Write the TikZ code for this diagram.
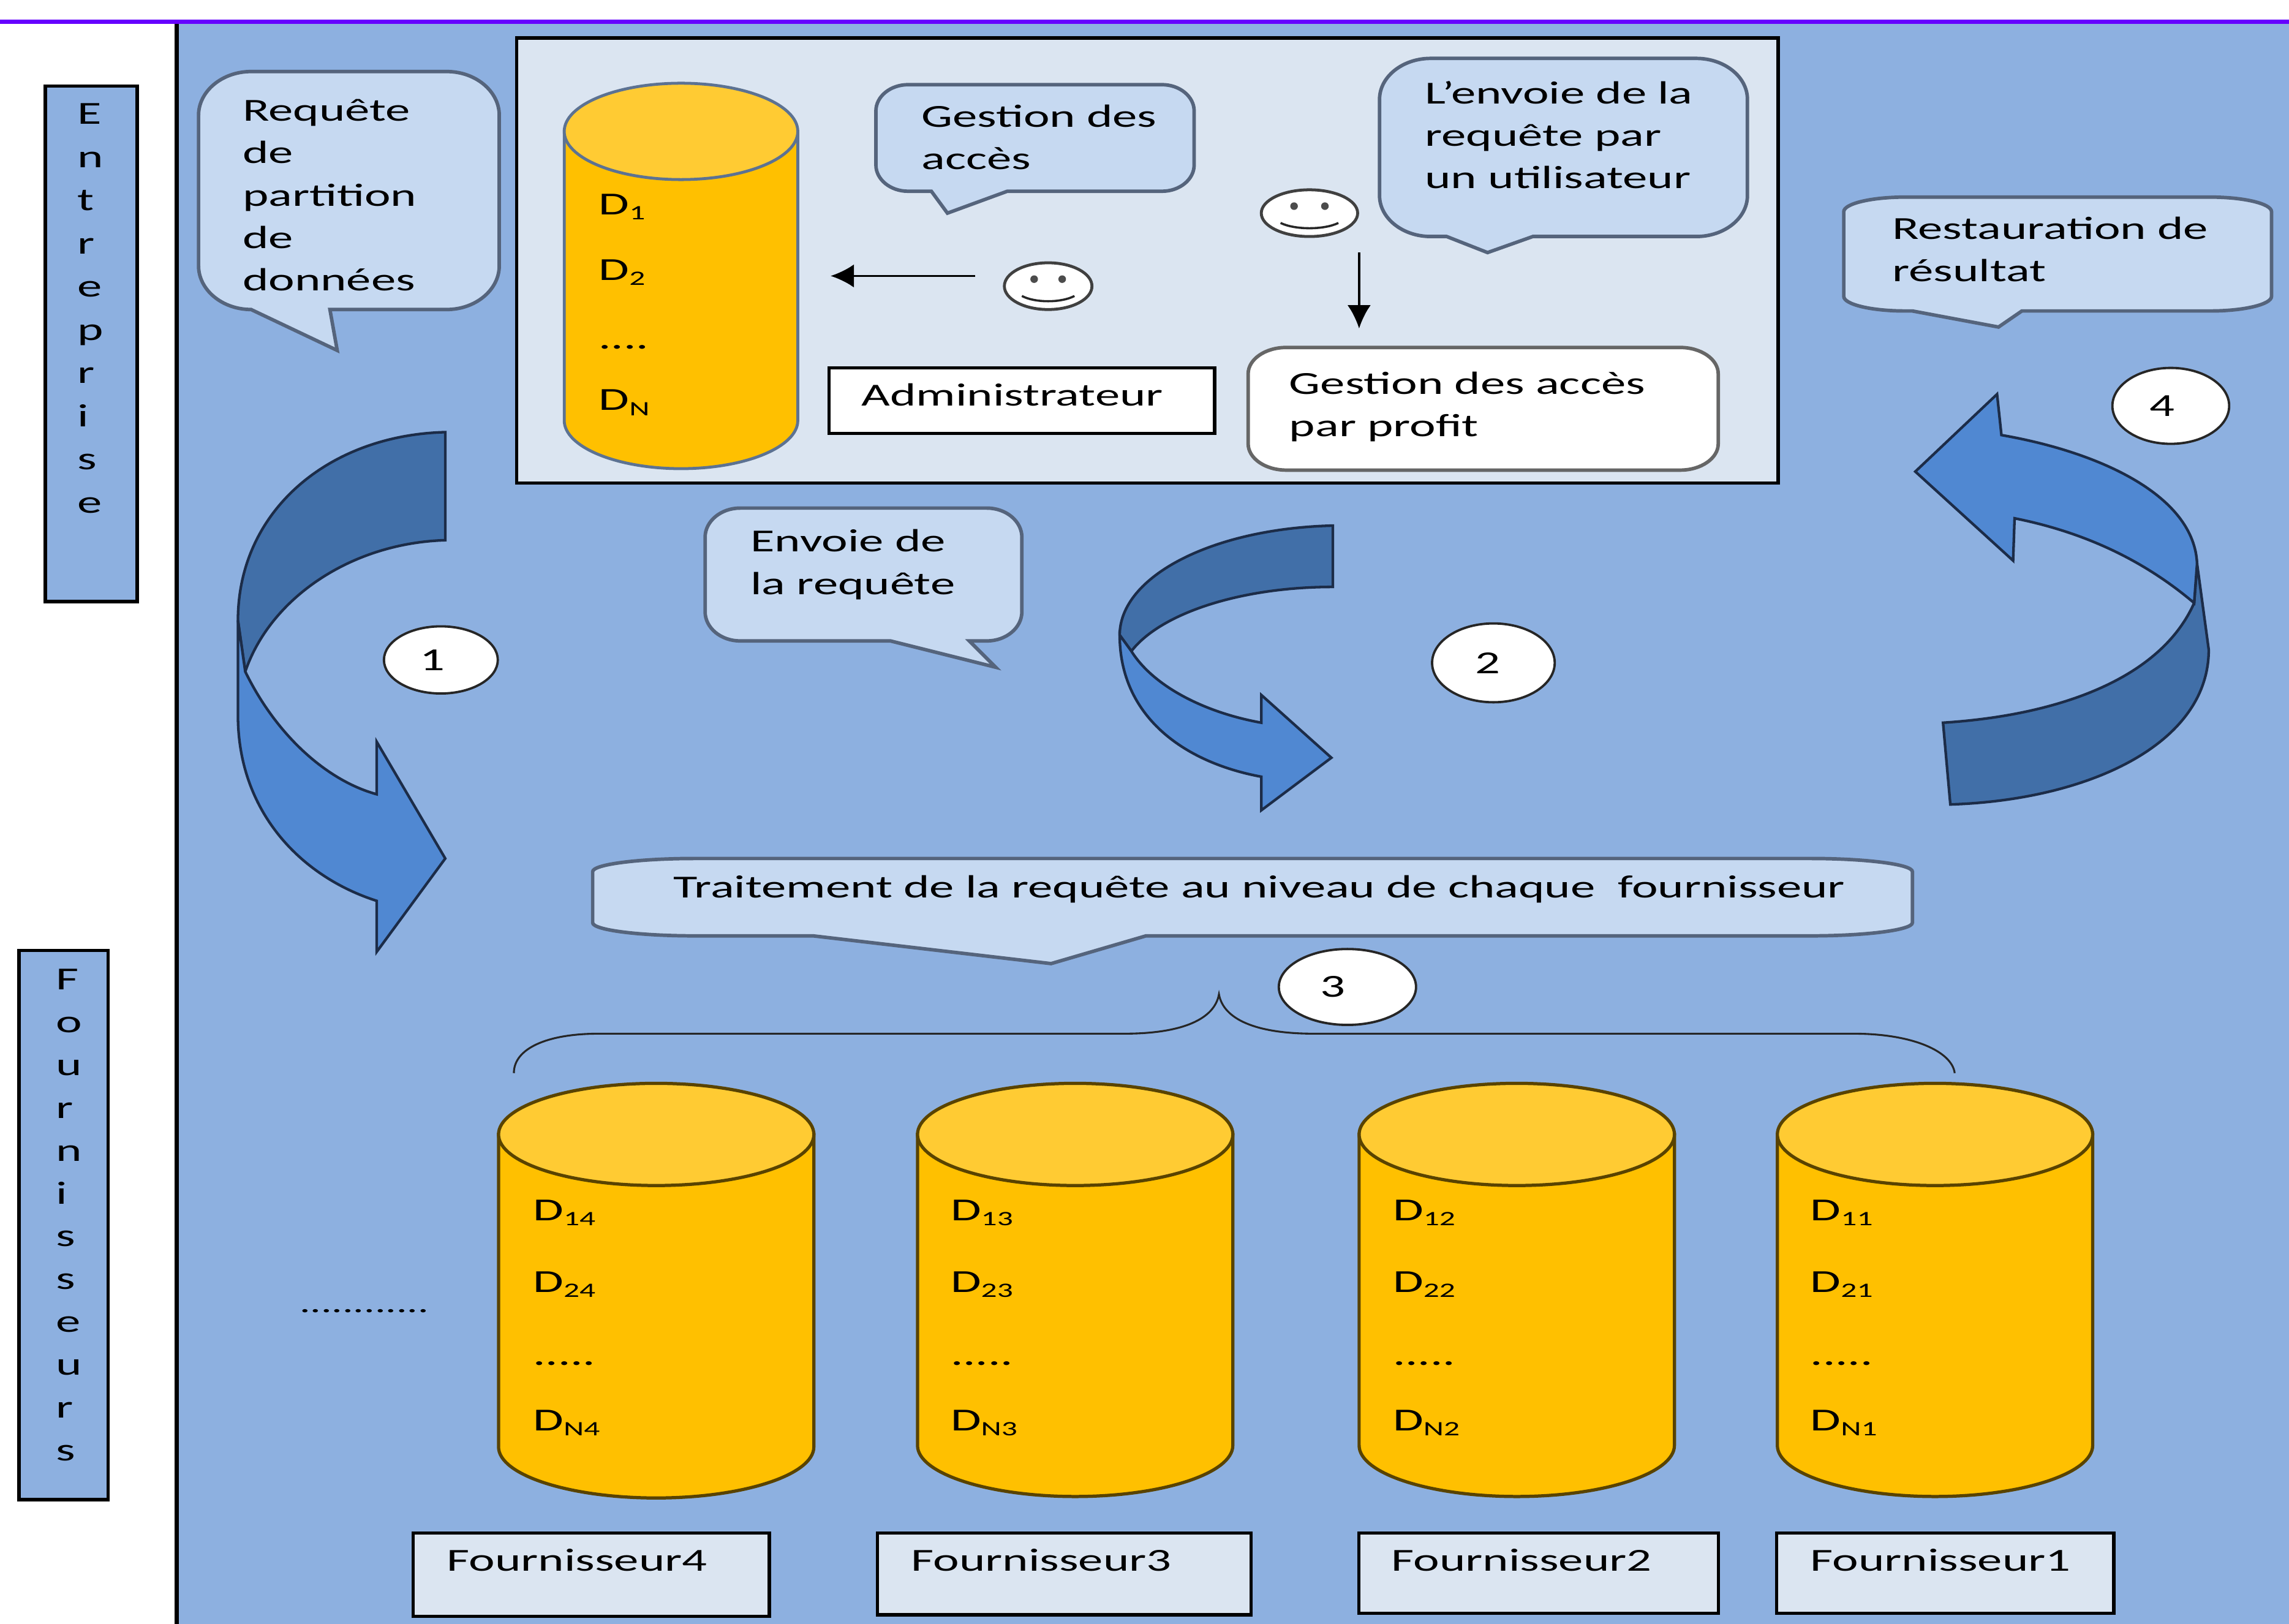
\documentclass[tikz,border=0pt]{standalone}
\usepackage{fontspec}
\setmainfont{Carlito}[FakeStretch=1.54]
\usetikzlibrary{shapes.geometric,arrows.meta}
\definecolor{bgblue}{HTML}{8DB0E0}
\definecolor{panel}{HTML}{DBE5F1}
\definecolor{bubfill}{HTML}{C6D9F1}
\definecolor{bubline}{HTML}{55647C}
\definecolor{purple1}{HTML}{6600FF}
\definecolor{dbbody}{HTML}{FFC000}
\definecolor{dbtop}{HTML}{FFCB33}
\definecolor{arrdark}{HTML}{416FA8}
\definecolor{arrlight}{HTML}{5088D2}
\definecolor{arrline}{HTML}{1C2C48}
\tikzset{
  txt/.style={anchor=base west,inner sep=0pt,font=\fontsize{22}{29}\selectfont},
  stack/.style={anchor=base west,inner sep=0pt,font=\fontsize{22}{#1}\selectfont},
  sidebox/.style={draw=black,line width=2.4pt,fill=bgblue},
  panelbox/.style={draw=black,line width=2.2pt,fill=panel},
  whitebox/.style={draw=black,line width=2.2pt,fill=white},
  bub/.style={draw=bubline,line width=2.4pt,fill=bubfill},
  whitebub/.style={draw=black!60,line width=2.4pt,fill=white},
  dbA/.style={draw=black!35!bgblue,line width=2pt},
  dbB/.style={draw=black!65!dbbody,line width=2.2pt},
  darkarrow/.style={draw=arrline,line width=1.8pt,fill=arrdark,line join=miter},
  lightarrow/.style={draw=arrline,line width=1.8pt,fill=arrlight,line join=miter},
  stepmark/.style={ellipse,draw=black!85,line width=1.6pt,fill=white,inner sep=0pt,font=\fontsize{22}{26}\selectfont},
  smile/.style={ellipse,draw=black!75,line width=2pt,fill=white,inner sep=0pt},
  conn/.style={draw=black,line width=1.6pt,-{Latex[length=16pt,width=16pt]}},
  bracel/.style={draw=black!85,line width=1.3pt}
}
\newcommand{\ml}[1]{\begin{tabular}[t]{@{}l@{}}#1\end{tabular}}
\newcommand{\sbs}[1]{\raisebox{-3.5pt}{\fontsize{14}{14}\selectfont #1}}
\newcommand{\callout}[8][bub]{%
  \draw[#1] ({#2+#6},#3) -- ({#4-#6},#3)
    .. controls ({#4-.45*#6},#3) and (#4,{#3+.45*#7}) .. (#4,{#3+#7})
    -- (#4,{#5-#7})
    .. controls (#4,{#5-.45*#7}) and ({#4-.45*#6},#5) .. ({#4-#6},#5)
    #8 -- ({#2+#6},#5)
    .. controls ({#2+.45*#6},#5) and (#2,{#5-.45*#7}) .. (#2,{#5-#7})
    -- (#2,{#3+#7})
    .. controls (#2,{#3+.45*#7}) and ({#2+.45*#6},#3) .. ({#2+#6},#3) -- cycle;}
\newcommand{\dbcyl}[7]{% name cx ytop ybot rx ry style
  \coordinate (#1) at (#2,{(#3+#4)/2});
  \draw[#7,fill=dbbody] ({#2-#5},#3) -- ({#2-#5},#4)
    .. controls ({#2-#5},{#4+.55*#6}) and ({#2-.55*#5},{#4+#6}) .. (#2,{#4+#6})
    .. controls ({#2+.55*#5},{#4+#6}) and ({#2+#5},{#4+.55*#6}) .. ({#2+#5},#4)
    -- ({#2+#5},#3) -- cycle;
  \draw[#7,fill=dbtop] (#2,#3) ellipse [x radius=#5,y radius=#6];}
\newcommand{\smiley}[5]{% name cx cy rx ry
  \node[smile,minimum width=#4*2pt,minimum height=#5*2pt] (#1) at (#2,#3) {};
  \fill[black!70] ({#2-.32*#4},{#3-.3*#5}) circle (2.6pt) ({#2+.32*#4},{#3-.3*#5}) circle (2.6pt);
  \draw[black!85,line width=1.5pt] ({#2-.6*#4},{#3+.42*#5}) .. controls ({#2-.3*#4},{#3+.72*#5}) and ({#2+.3*#4},{#3+.72*#5}) .. ({#2+.6*#4},{#3+.42*#5});}
\begin{document}
\begin{tikzpicture}[x=1pt,y=-1pt]
\useasboundingbox (0,0) rectangle (1568,1112.3);
\fill[white] (0,0) rectangle (1568,1112.3);
\fill[bgblue] (121,15) rectangle (1568,1112.3);
\draw[black,line width=3pt] (121,15) -- (121,1112.3);
\draw[purple1,line width=3pt] (0,15) -- (1568,15);
% side boxes
\draw[sidebox] (31,59) rectangle (94,412);
\node[stack=29.6] (ent) at (53,85) {\ml{E\\n\\t\\r\\e\\p\\r\\i\\s\\e}};
\draw[sidebox] (13,651) rectangle (74,1027);
\node[stack=29.3] (fou) at (38,678) {\ml{F\\o\\u\\r\\n\\i\\s\\s\\e\\u\\r\\s}};
% enterprise panel
\draw[panelbox] (354,26) rectangle (1218,331);
\dbcyl{dbE}{466.5}{90}{288}{80}{33}{dbA}
\node[txt] (e1) at (410,147) {D\sbs{1}};
\node[txt] (e2) at (410,192) {D\sbs{2}};
\node[txt] (e3) at (410,239) {....};
\node[txt] (e4) at (410,281) {D\sbs{N}};
\callout{600}{58}{818}{131}{22}{18}{-- (690,131) -- (649,146) -- (638,131)}
\node[txt] (g1) at (631,87) {\ml{Gestion des\\accès}};
\callout{945}{40}{1197}{162}{35}{28}{-- (1050,162) -- (1019,173) -- (991,162)}
\node[txt] (l1) at (976,71) {\ml{L’envoie de la\\requête par\\un utilisateur}};
\smiley{smB}{897}{146}{33}{16}
\smiley{smA}{718}{196}{30}{16}
\coordinate (aS) at (668,189);
\coordinate (aE) at (569,189);
\coordinate (bS) at (931,173);
\coordinate (bE) at (931,225);
\draw[conn] (aS) -- (aE);
\draw[conn] (bS) -- (bE);
\draw[whitebox] (568,252) rectangle (832,297);
\node[txt] (adm) at (590,278) {Administrateur};
\callout[whitebub]{855}{238}{1177}{322}{26}{18}{}
\node[txt] (gp) at (883,270) {\ml{Gestion des accès\\par profit}};
% bubbles on blue
\callout{136}{49}{342}{212}{36}{30}{-- (226,212) -- (231,240) -- (172,212)}
\node[txt] (r1) at (166,83) {\ml{Requête\\de\\partition\\de\\données}};
\callout{483}{348}{700}{439}{24}{20}{-- (664,439) -- (682,457) -- (610,439)}
\node[txt] (en) at (514,378) {\ml{Envoie de\\la requête}};
\callout{1263}{135}{1556}{213}{42}{10}{-- (1385,213) -- (1369,224) -- (1310,213)}
\node[txt] (re) at (1296,164) {\ml{Restauration de\\résultat}};
\callout{406}{588}{1310}{641}{70}{9}{-- (785,641) -- (720,660) -- (557,641)}
\node[txt] (tr) at (461,615) {Traitement de la requête au niveau de chaque \ fournisseur};
% curved arrows
\draw[darkarrow] (305,296) .. controls (225,298) and (163,350) .. (163,425) -- (168,460) .. controls (185,410) and (240,372) .. (305,370) -- cycle;
\draw[lightarrow] (168,460) .. controls (190,505) and (225,535) .. (258,544) -- (258,508) -- (305,588) -- (258,652) -- (258,617) .. controls (205,600) and (163,555) .. (163,490) -- (163,425) -- cycle;
\draw[darkarrow] (913,360) .. controls (830,362) and (767,395) .. (767,435) -- (775,446) .. controls (795,420) and (850,402) .. (913,402) -- cycle;
\draw[lightarrow] (775,446) .. controls (790,470) and (825,488) .. (864,495) -- (864,476) -- (912,519) -- (864,555) -- (864,532) .. controls (810,522) and (767,490) .. (767,435) -- cycle;
\draw[darkarrow] (1505,386) -- (1513,445) .. controls (1513,510) and (1430,548) .. (1336,551) -- (1331,495) .. controls (1410,490) and (1480,465) .. (1503,413) -- cycle;
\draw[lightarrow] (1312,323) -- (1368,270) -- (1371,298) .. controls (1440,310) and (1503,340) .. (1505,386) -- (1503,413) .. controls (1470,385) and (1430,365) .. (1380,355) -- (1379,384) -- cycle;
% step marks
\node[stepmark,minimum width=78pt,minimum height=46pt] (s1) at (302,452) {1\kern12pt\relax};
\node[stepmark,minimum width=84pt,minimum height=54pt] (s2) at (1023,454) {2\kern8pt\relax};
\node[stepmark,minimum width=94pt,minimum height=52pt] (s3) at (923,676) {3\kern20pt\relax};
\node[stepmark,minimum width=80pt,minimum height=52pt] (s4) at (1487,278) {4\kern12pt\relax};
% brace
\draw[bracel] (352,735) .. controls (352,718) and (375,708) .. (410,708) -- (770,708) .. controls (810,708) and (832,698) .. (835,681) .. controls (838,698) and (860,708) .. (900,708) -- (1270,708) .. controls (1310,708) and (1337,720) .. (1339,735);
% supplier databases
\dbcyl{db4}{449.5}{777}{991}{108}{35}{dbB}
\dbcyl{db3}{736.5}{777}{990}{108}{35}{dbB}
\dbcyl{db2}{1039}{777}{990}{108}{35}{dbB}
\dbcyl{db1}{1325.5}{777}{990}{108}{35}{dbB}
\node[txt] (a1) at (365,836) {D\sbs{14}};
\node[txt] (a2) at (365,885) {D\sbs{24}};
\node[txt] (a3) at (365,935) {.....};
\node[txt] (a4) at (365,980) {D\sbs{N4}};
\node[txt] (b1) at (651,836) {D\sbs{13}};
\node[txt] (b2) at (651,885) {D\sbs{23}};
\node[txt] (b3) at (651,935) {.....};
\node[txt] (b4) at (651,980) {D\sbs{N3}};
\node[txt] (c1) at (954,836) {D\sbs{12}};
\node[txt] (c2) at (954,885) {D\sbs{22}};
\node[txt] (c3) at (954,935) {.....};
\node[txt] (c4) at (954,980) {D\sbs{N2}};
\node[txt] (d1) at (1240,836) {D\sbs{11}};
\node[txt] (d2) at (1240,885) {D\sbs{21}};
\node[txt] (d3) at (1240,935) {.....};
\node[txt] (d4) at (1240,980) {D\sbs{N1}};
\node[txt] (dots) at (205,899) {\fontsize{19}{20}\selectfont............};
% supplier labels
\draw[panelbox] (283,1050) rectangle (527,1107);
\node[txt] (f4) at (306,1076) {Fournisseur4};
\draw[panelbox] (601,1050) rectangle (857,1106);
\node[txt] (f3) at (624,1076) {Fournisseur3};
\draw[panelbox] (931,1050) rectangle (1177,1105);
\node[txt] (f2) at (953,1076) {Fournisseur2};
\draw[panelbox] (1217,1050) rectangle (1448,1105);
\node[txt] (f1) at (1240,1076) {Fournisseur1};
\end{tikzpicture}
\end{document}
